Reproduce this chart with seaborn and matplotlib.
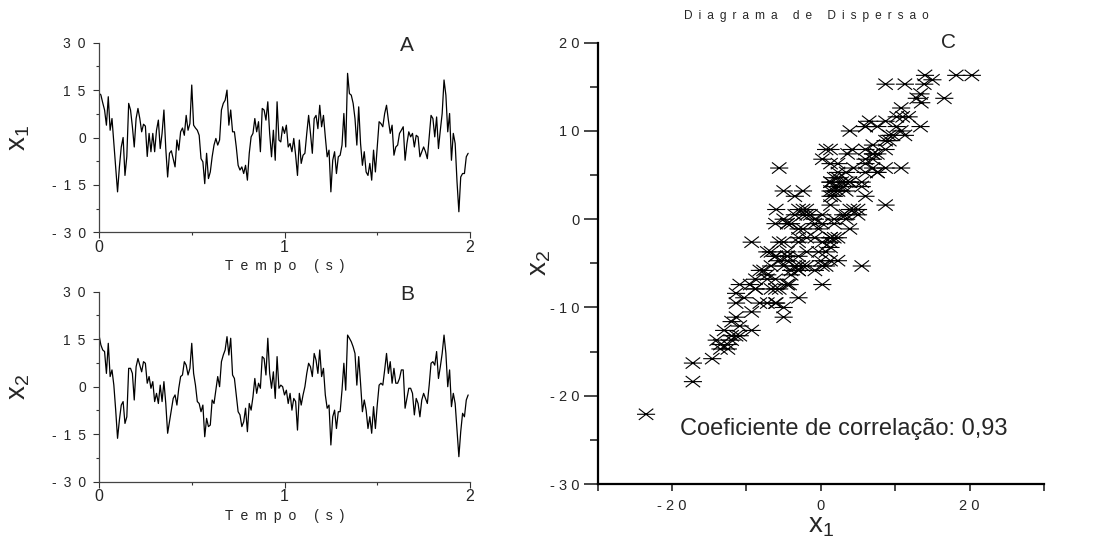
import numpy as np
import pandas as pd
import matplotlib
matplotlib.use("Agg")
import matplotlib.pyplot as plt
from matplotlib.path import Path
from matplotlib.ticker import FixedLocator, MultipleLocator
import seaborn as sns

# Two signals sampled at 100 Hz over 2 s
sample_rate = 100
x1 = [14, 13.5, 11, 8.7, 3.9, 12.9, 2.3, 6, -1.9, -9.5,
      -17.2, -9.3, -3, 0, -12, -6, 10.8, 8.7, 3.4, -3,
      6, 9.2, 6, 1.8, 4.2, 3.6, -6, 1.3, -4.5, 1.3,
      -4.5, 2.3, 5.5, -3.5, 1.3, 8.7, -3.5, -12.5, -5, -4.2,
      -6.7, -9.3, -0.8, -4, 1.8, 3, 0.7, 7, 2.3, 4.4,
      16.6, 3.9, 3.0, 2.3, 0.7, -6.7, -7.7, -14.6, -5, -13,
      -10.9, -6.1, -2.4, -0.3, -2.4, -0.8, 8.7, 10.8, 11.8, 15,
      3.9, 8.7, 1.8, 1.8, -3, -8.8, -10.3, -9.3, -11.4, -8.8,
      -13.5, -5, 0.2, 1.3, 6, 1.8, 5, -4.5, 9.2, 8.7,
      5.5, 11.3, 1.3, -6.1, 2.3, -7.2, 11.3, -0.8, -1.4, 3.4,
      1.3, 3.9, -3, -1.9, -4.5, -0.3, -5.6, -12, -0.8, -8.2,
      -5.6, -5, 1.3, 7, 1.3, -5, 6, 7, 2.8, 10.2,
      3.4, 7, 0.2, -6.1, -4, -17.2, -7.2, -4.5, -11.4, -6.1,
      -5.6, -2.4, 7.6, -3, 20.3, 13.9, 13.4, 10.8, 6, -2.4,
      9.7, -1.9, -8.8, -4.5, -10.9, -12, -8.2, -13.5, -4, -10.9,
      -3, 5, 4.4, 3.4, 7.6, 10.2, 5.5, 1.3, 3.9, -5.6,
      -3, -2.4, 1.3, 2.3, 3.4, -7.2, -1.9, 1.8, 0.2, 1.3,
      -3, 0.7, 0.2, -6.1, -4.5, -3, -4.5, -6.7, 0.2, 7,
      6, 0.2, 6.5, -3.5, 2.3, 7.6, 18.2, 13.4, 1.8, 7.6,
      -7.2, 1.3, -1.9, -14, -23.5, -12.5, -11.4, -11.4, -6.1, -5]

x2 = [16.3, 13.2, 11.6, 11.1, 4.2, 13.7, 3.2, 5.3, 0.5, -7.4,
      -16.3, -10.5, -5.8, -4.7, -11.6, -9.5, 5.8, 5.8, 4.2, -4.2,
      6.3, 8.9, 6.8, 4.7, 7.9, 7.4, 1.1, 3.2, -0.5, 1.6,
      -4.7, -2.1, -5.3, 0.5, -4.7, 1.6, -5.3, -14.7, -11.1, -7.4,
      -3.7, -2.6, -5.8, -0.5, 3.2, 3.7, 7.9, 6.8, 3.7, 5.8,
      13.7, 4.2, 0.5, -4.7, -5.3, -7.9, -5.8, -15.8, -10, -12.6,
      -12.1, -4.2, -5.3, -1.1, 3.2, 0, 7.9, 10, 11.6, 15.8,
      10, 15.3, 3.7, 2.6, -2.6, -7.9, -8.9, -12.6, -11.1, -6.8,
      -14.2, -5.3, -7.4, -3.2, 2.6, -2.1, 1.1, -0.5, 9.5, 8.9,
      3.7, 15.3, 4.2, -0.5, 4.7, -3.7, 9.5, -0.5, 0.5, 0,
      -2.6, -1.1, -5.3, -2.1, -7.4, -3.7, -4.7, -13.7, -2.1, -5.8,
      -2.6, 0, 4.2, 7.4, 6.3, 3.2, 10.5, 8.4, 4.2, 11.6,
      3.2, 5.8, -2.6, -6.8, -5.8, -18.4, -9.5, -7.4, -13.2, -7.9,
      -7.9, -1.1, 7.4, -1.1, 16.3, 15.3, 14.2, 12.6, 10.5, 0.5,
      9.5, 1.1, -7.9, -4.2, -7.4, -13.2, -9.5, -14.7, -6.3, -13.2,
      -5.8, 0.5, 1.1, 0.5, 5.3, 10.5, 4.2, 7.9, 1.1, 5.8,
      1.1, 1.1, 2.6, 5.3, 5.3, -6.8, -3.7, -0.5, -0.5, -2.1,
      -8.9, -3.7, -5.3, -9.5, -4.2, -2.1, -3.7, -5.3, 0.5, 7.4,
      7.9, 6.8, 11.1, 2.6, 6.3, 10.5, 16.3, 10.5, 0, 5.3,
      -6.3, -2.1, -5.3, -13.7, -22.1, -14.2, -8.4, -9.5, -4.2, -2.6]

correlation_text = "Coeficiente de correlação: 0,93"
series_ticks = [-30, -15, 0, 15, 30]
time_ticks = [0, 1, 2]
scatter_yticks = [-30, -20, -10, 0, 10, 20]
scatter_xticks = [-30, -20, -10, 0, 10, 20, 30]
scatter_xlabels = ["", "-20", "", "0", "", "20", ""]

df = pd.DataFrame({"t": np.arange(len(x1)) / sample_rate, "x1": x1, "x2": x2})

sns.set_style("ticks")
plt.rcParams["font.family"] = ["Liberation Sans", "DejaVu Sans"]
plt.rcParams["xtick.direction"] = "out"
plt.rcParams["ytick.direction"] = "out"

EN = "\u2002"


def spaced(s, sep=EN):
    return sep.join(str(s))


W, H = 1106, 539
fig = plt.figure(figsize=(W / 100, H / 100), dpi=100)


def box(left, top, right, bottom):
    return [left / W, 1 - bottom / H, (right - left) / W, (bottom - top) / H]


def style_series(ax, sub, letter):
    ax.set_xlim(0, 2)
    ax.set_ylim(-30, 30)
    sns.despine(ax=ax)
    ax.set_yticks(series_ticks)
    ax.set_yticklabels([spaced(v) for v in series_ticks], fontsize=10)
    ax.set_xticks(time_ticks)
    ax.set_xticklabels([str(v) for v in time_ticks], fontsize=11.5)
    ax.xaxis.set_minor_locator(MultipleLocator(0.5))
    ax.yaxis.set_minor_locator(FixedLocator([-22.5, -7.5, 7.5, 22.5]))
    ax.tick_params(which="major", length=4.5, width=0.8, color="#333333")
    ax.tick_params(which="minor", length=2.5, width=0.8, color="#333333")
    ax.tick_params(axis="y", pad=5)
    ax.tick_params(axis="x", pad=1)
    for sp in ax.spines.values():
        sp.set_color("#444444")
        sp.set_linewidth(0.9)
    ax.set_xlabel(spaced("Tempo (s)"), fontsize=10, labelpad=3)
    ax.set_ylabel(r"$\mathregular{x_{%s}}$" % sub, fontsize=20, labelpad=14)
    ax.text(0.83, 0.985, letter, transform=ax.transAxes, fontsize=15, ha="center", va="center")


# Panel A: x1 over time
axA = fig.add_axes(box(99, 42.7, 470, 232.3))
sns.lineplot(data=df, x="t", y="x1", ax=axA, color="black", linewidth=0.9)
style_series(axA, "1", "A")

# Panel B: x2 over time
axB = fig.add_axes(box(99, 291.7, 470, 481.7))
sns.lineplot(data=df, x="t", y="x2", ax=axB, color="black", linewidth=0.9)
style_series(axB, "2", "B")

# Panel C: x1 versus x2, six-armed star markers
star = Path([(-1, 0), (1, 0), (-0.8, -0.62), (0.8, 0.62), (-0.8, 0.62), (0.8, -0.62)],
            [Path.MOVETO, Path.LINETO, Path.MOVETO, Path.LINETO, Path.MOVETO, Path.LINETO])
axC = fig.add_axes(box(597.7, 42.7, 1044, 484))
sns.scatterplot(data=df, x="x1", y="x2", ax=axC, marker=star, s=170,
                facecolor="none", edgecolor="black", linewidth=0.8, color="black")
axC.set_xlim(-30, 30)
axC.set_ylim(-30, 20)
sns.despine(ax=axC)
axC.set_xticks(scatter_xticks)
axC.set_xticklabels([spaced(v, " ") if v else v for v in scatter_xlabels], fontsize=10.5)
axC.set_yticks(scatter_yticks)
axC.set_yticklabels([spaced(v, " ") for v in scatter_yticks], fontsize=10.5)
axC.yaxis.set_minor_locator(MultipleLocator(5))
axC.tick_params(which="major", length=10, width=1.2, pad=3)
axC.tick_params(axis="x", which="major", length=5, pad=6)
axC.tick_params(which="minor", length=6, width=1.2)
for sp in axC.spines.values():
    sp.set_color("black")
    sp.set_linewidth(1.6)
axC.set_xlabel(r"$\mathregular{x_1}$", fontsize=20, labelpad=0)
axC.set_ylabel(r"$\mathregular{x_2}$", fontsize=20, labelpad=-2)
axC.text(0.785, 1.0, "C", transform=axC.transAxes, fontsize=15, ha="center", va="center")
axC.text(0.185, 0.125, correlation_text, transform=axC.transAxes, fontsize=17, ha="left", va="center")

fig.text(806 / W, 1 - 16 / H, spaced("Diagrama de Dispersao"), fontsize=8.6, ha="center", va="center")

fig.savefig("out.png", dpi=100)
